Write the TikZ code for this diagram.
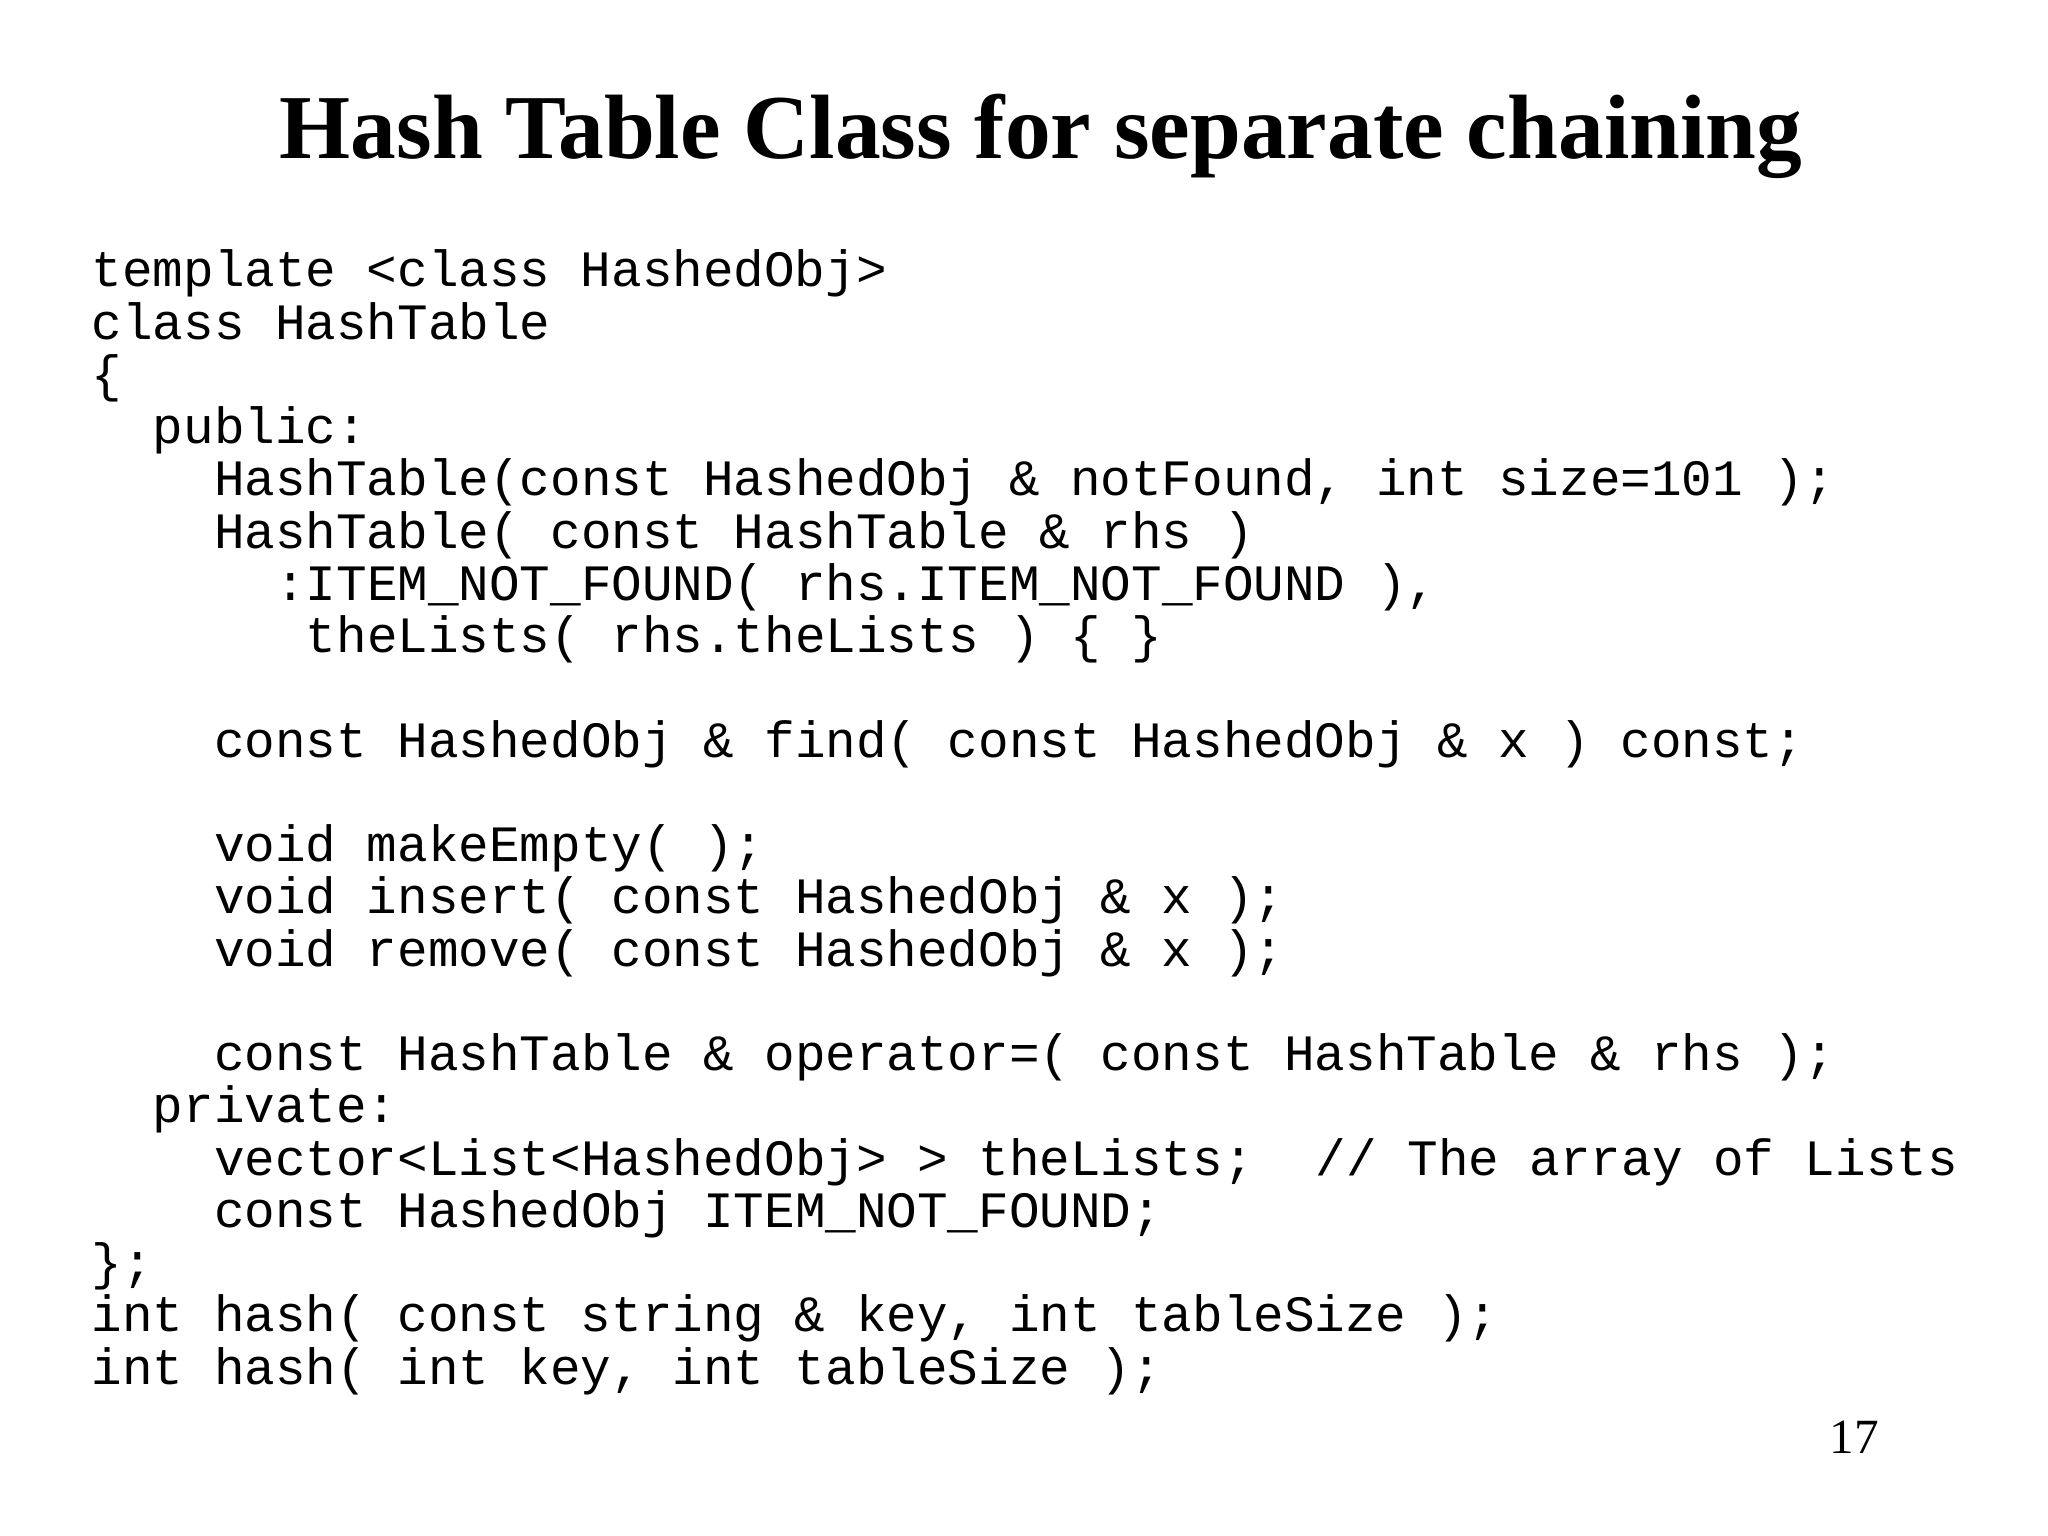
\documentclass[tikz,border=0pt]{standalone}
\usepackage{fontspec}
\setmainfont{Liberation Serif}
\newfontfamily\codefont{Liberation Mono}
\begin{document}
\begin{tikzpicture}[x=1cm,y=1cm,
  code/.style={anchor=base west,inner sep=0pt,font=\codefont\fontsize{14.5}{14.5}\selectfont}]
\useasboundingbox (0,0) rectangle (20.48,15.36);
\node[font=\bfseries\fontsize{26}{26}\selectfont,inner sep=0pt] (title) at (10.41,14.0) {Hash Table Class for separate chaining};
\def\cw{0.306}
\def\lx{0.91}
\def\ly{12.49}
\def\ls{0.5224}
\newcommand\cl[4]{\node[code] (#1) at ({\lx+#2*\cw},{\ly-#3*\ls}) {#4};}
\cl{l1}{0}{0}{template <class HashedObj>}
\cl{l2}{0}{1}{class HashTable}
\cl{l3}{0}{2}{\{}
\cl{l4}{2}{3}{public:}
\cl{l5}{4}{4}{HashTable(const HashedObj \& notFound, int size=101 );}
\cl{l6}{4}{5}{HashTable( const HashTable \& rhs )}
\cl{l7}{6}{6}{:ITEM\_NOT\_FOUND( rhs.ITEM\_NOT\_FOUND ),}
\cl{l8}{7}{7}{theLists( rhs.theLists ) \{ \}}
\cl{l10}{4}{9}{const HashedObj \& find( const HashedObj \& x ) const;}
\cl{l12}{4}{11}{void makeEmpty( );}
\cl{l13}{4}{12}{void insert( const HashedObj \& x );}
\cl{l14}{4}{13}{void remove( const HashedObj \& x );}
\cl{l16}{4}{15}{const HashTable \& operator=( const HashTable \& rhs );}
\cl{l17}{2}{16}{private:}
\cl{l18}{4}{17}{vector<List<HashedObj> > theLists;}
\cl{l18b}{40}{17}{// The array of Lists}
\cl{l19}{4}{18}{const HashedObj ITEM\_NOT\_FOUND;}
\cl{l20}{0}{19}{\};}
\cl{l21}{0}{20}{int hash( const string \& key, int tableSize );}
\cl{l22}{0}{21}{int hash( int key, int tableSize );}
\node[font=\fontsize{14}{14}\selectfont,inner sep=0pt] (page) at (18.54,0.99) {17};
\end{tikzpicture}
\end{document}
